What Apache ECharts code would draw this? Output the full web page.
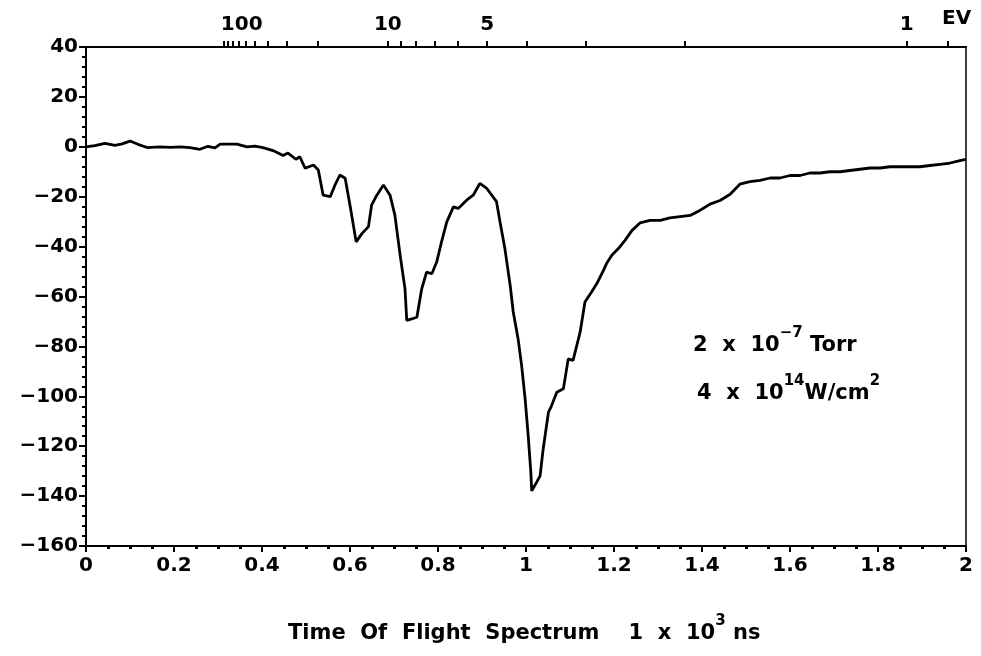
<!DOCTYPE html>
<html>
<head>
<meta charset="utf-8">
<script src="https://cdn.jsdelivr.net/npm/echarts@6/dist/echarts.min.js"></script>
<style>
  html, body { margin: 0; padding: 0; background: #fff; }
  #chart { width: 981px; height: 656px; }
</style>
</head>
<body>
<div id="chart"></div>
<script>
// Time of flight, in units of 1 x 10^3 ns
const flightTime = [
  0.000, 0.020, 0.043, 0.066, 0.082, 0.100, 0.118, 0.139, 0.168, 0.191,
  0.214, 0.236, 0.259, 0.277, 0.293, 0.305, 0.343, 0.366, 0.384, 0.402,
  0.425, 0.448, 0.459, 0.477, 0.486, 0.498, 0.517, 0.528, 0.539, 0.555,
  0.566, 0.577, 0.589, 0.600, 0.614, 0.627, 0.642, 0.649, 0.661, 0.676,
  0.691, 0.702, 0.714, 0.725, 0.729, 0.740, 0.752, 0.763, 0.774, 0.786,
  0.797, 0.808, 0.820, 0.835, 0.846, 0.865, 0.880, 0.895, 0.911, 0.933,
  0.941, 0.952, 0.964, 0.971, 0.982, 0.990, 0.998, 1.005, 1.011, 1.013,
  1.024, 1.032, 1.039, 1.051, 1.058, 1.070, 1.085, 1.096, 1.107, 1.123,
  1.134, 1.149, 1.161, 1.176, 1.183, 1.195, 1.210, 1.225, 1.241, 1.259,
  1.282, 1.305, 1.327, 1.350, 1.373, 1.395, 1.418, 1.441, 1.464, 1.486,
  1.509, 1.532, 1.555, 1.577, 1.600, 1.623, 1.645, 1.668, 1.691, 1.714,
  1.736, 1.759, 1.782, 1.805, 1.827, 1.850, 1.873, 1.895, 1.918, 1.941,
  1.964, 1.986, 2.000
];

// Detector signal
const signal = [
  0.0, 0.5, 1.4, 0.6, 1.2, 2.3, 1.0, -0.3, 0.0, -0.2,
  0.0, -0.3, -1.0, 0.2, -0.4, 1.1, 1.1, 0.0, 0.3, -0.3,
  -1.5, -3.5, -2.5, -5.0, -4.0, -8.6, -7.3, -9.3, -19.4, -20.0,
  -15.3, -11.3, -12.6, -23.4, -38.1, -34.8, -32.0, -23.4, -19.4, -15.3,
  -19.4, -27.4, -43.5, -56.9, -69.6, -69.0, -68.3, -56.9, -50.2, -50.9,
  -46.2, -38.1, -30.1, -24.1, -24.7, -21.4, -19.4, -14.7, -16.7, -22.0,
  -30.1, -40.8, -55.5, -66.2, -76.9, -87.6, -101.0, -115.8, -130.5, -137.9,
  -134.5, -131.9, -121.2, -106.4, -103.8, -98.4, -97.0, -85.0, -85.6, -74.3,
  -62.2, -58.2, -54.8, -49.5, -46.8, -43.5, -40.8, -37.5, -33.5, -30.5,
  -29.5, -29.5, -28.5, -28.0, -27.5, -25.5, -23.0, -21.5, -19.0, -15.0,
  -14.0, -13.5, -12.5, -12.5, -11.5, -11.5, -10.5, -10.5, -10.0, -10.0,
  -9.5, -9.0, -8.5, -8.5, -8.0, -8.0, -8.0, -8.0, -7.5, -7.0,
  -6.5, -5.5, -5.0
];

// Electron energies (eV) marked on the upper scale, and those that get a label
const energyTicks = [100, 90, 80, 70, 60, 50, 40, 30, 20, 10, 9, 8, 7, 6, 5, 4, 3, 2, 1, 0.9];
const energyLabels = [100, 10, 5, 1];

// Arrival time (10^3 ns) for an electron of energy e (eV): t = t0 + k / sqrt(e)
const T0 = 0.1406, K = 1.7244;
const tofOf = e => T0 + K / Math.sqrt(e);

const FONT = '"DejaVu Sans", "Liberation Sans", Arial, sans-serif';
const INK = '#000';

// rich-text styles for a line of text with superscripts
const supText = (size, supSize) => ({
  a: { fill: INK, fontFamily: FONT, fontWeight: 'bold', fontSize: size, lineHeight: 30, verticalAlign: 'bottom' },
  s: { fill: INK, fontFamily: FONT, fontWeight: 'bold', fontSize: supSize, lineHeight: 30, verticalAlign: 'top' }
});

const chart = echarts.init(document.getElementById('chart'), null, { renderer: 'canvas' });

chart.setOption({
  animation: false,
  backgroundColor: '#fff',
  grid: {
    left: 86, right: 15, top: 47, bottom: 110,
    show: true, borderColor: INK, borderWidth: 1.5,
    outerBoundsMode: 'none'
  },
  xAxis: [
    {
      type: 'value', position: 'bottom', min: 0, max: 2, interval: 0.2,
      axisLine: { show: true, onZero: false, lineStyle: { color: INK, width: 2 } },
      axisTick: { show: true, inside: false, length: 6, lineStyle: { color: INK, width: 2 } },
      minorTick: { show: true, splitNumber: 4, length: 3, lineStyle: { color: INK, width: 3 } },
      splitLine: { show: false },
      axisLabel: { color: INK, fontFamily: FONT, fontSize: 20, fontWeight: 'bold', margin: 10 }
    },
    {
      type: 'value', position: 'top', min: 0, max: 2,
      axisLine: { show: true, onZero: false, lineStyle: { color: INK, width: 2 } },
      axisTick: {
        show: true, inside: false, length: 6,
        customValues: energyTicks.map(tofOf),
        lineStyle: { color: INK, width: 2 }
      },
      splitLine: { show: false },
      axisLabel: {
        show: true, margin: 12,
        customValues: energyLabels.map(tofOf),
        color: INK, fontFamily: FONT, fontSize: 20, fontWeight: 'bold',
        formatter: v => {
          const e = energyLabels.find(x => Math.abs(tofOf(x) - v) < 1e-6);
          if (e === undefined) return '';
          return e === 100 ? '{r|100}' : String(e);
        },
        rich: {
          r: { padding: [0, 0, 0, 36], color: INK, fontFamily: FONT, fontSize: 20, fontWeight: 'bold' }
        }
      }
    }
  ],
  yAxis: {
    type: 'value', min: -160, max: 40, interval: 20,
    axisLine: { show: true, onZero: false, lineStyle: { color: INK, width: 2 } },
    axisTick: { show: true, inside: false, length: 7, lineStyle: { color: INK, width: 2 } },
    minorTick: { show: true, splitNumber: 5, length: 4, lineStyle: { color: INK, width: 2 } },
    splitLine: { show: false },
    axisLabel: {
      color: INK, fontFamily: FONT, fontSize: 20, fontWeight: 'bold', margin: 8,
      formatter: v => String(v).replace('-', '\u2212')
    }
  },
  series: [{
    type: 'line',
    xAxisIndex: 0,
    data: flightTime.map((t, i) => [t, signal[i]]),
    showSymbol: false,
    smooth: false,
    lineStyle: { color: INK, width: 2.8 },
    z: 3
  }],
  graphic: [
    {
      type: 'text', left: 942, top: 9,
      style: { text: 'EV', fill: INK, font: 'bold 20px ' + FONT }
    },
    {
      type: 'text', left: 693, top: 326,
      style: { text: '{a|2  x  10}{s|\u22127}{a| Torr}', rich: supText(21, 15) }
    },
    {
      type: 'text', left: 697, top: 374,
      style: { text: '{a|4  x  10}{s|14}{a|W/cm}{s|2}', rich: supText(21, 15) }
    },
    {
      type: 'text', left: 288, top: 614,
      style: { text: '{a|Time  Of  Flight  Spectrum    1  x  10}{s|3}{a| ns}', rich: supText(21, 15) }
    }
  ]
});
</script>
</body>
</html>
